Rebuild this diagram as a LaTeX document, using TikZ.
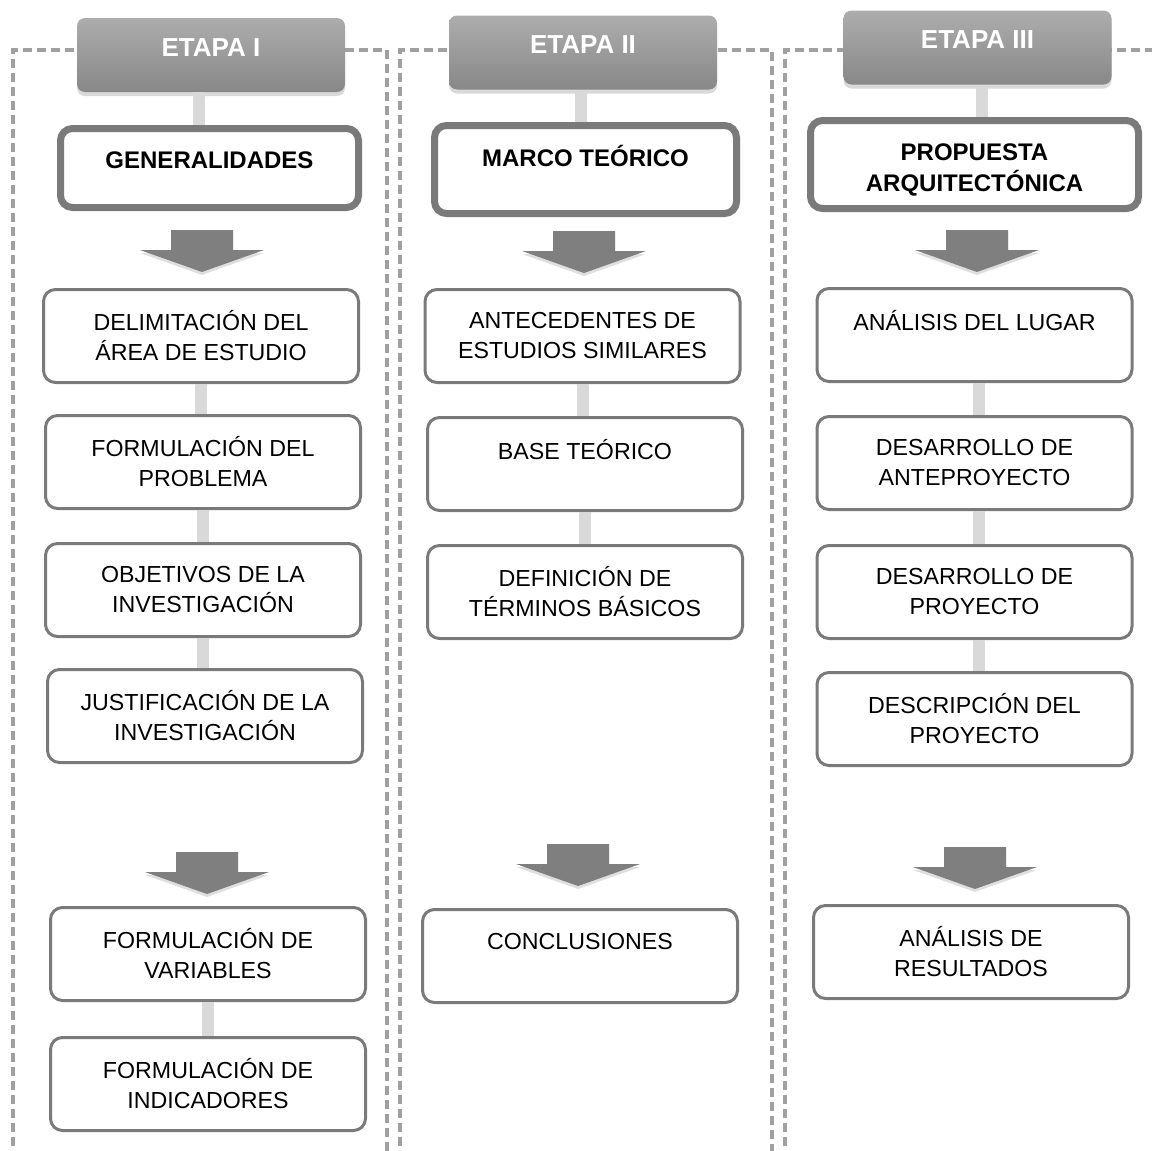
\documentclass[tikz,border=0pt]{standalone}
\usepackage{fontspec}
\setmainfont{Liberation Sans}
\usetikzlibrary{positioning,shadows}

\definecolor{marcogris}{HTML}{A0A0A0}
\definecolor{borde}{HTML}{7A7A7A}
\definecolor{enlacegris}{HTML}{D9D9D9}
\definecolor{flechagris}{HTML}{7F7F7F}
\definecolor{etapaarriba}{HTML}{ADADAD}
\definecolor{etapaabajo}{HTML}{888888}

\begin{document}
\begin{tikzpicture}[x=0.5pt,y=-0.5pt,
  marco/.style={draw=marcogris,line width=1.6pt,dash pattern=on 4.5pt off 2.5pt},
  etapa/.style={rectangle,rounded corners=4pt,top color=etapaarriba,bottom color=etapaabajo,draw=none,
    text=white,font=\bfseries\fontsize{13}{15}\selectfont,minimum width=134pt,minimum height=37pt,
    text height=9.3pt,text depth=8pt,drop shadow={opacity=0.3,shadow xshift=0pt,shadow yshift=-2pt}},
  titulo/.style={rectangle,rounded corners=6pt,draw=borde,line width=3.5pt,fill=white,
    font=\bfseries\fontsize{12}{15.5}\selectfont,align=center},
  paso/.style={rectangle,rounded corners=6pt,draw=borde,line width=1.5pt,fill=white,
    font=\fontsize{11.6}{15}\selectfont,align=center,minimum width=157.5pt,minimum height=46.5pt},
  enlace/.style={draw=enlacegris,line width=6pt},
  flecha/.style={fill=flechagris,draw=none,drop shadow={opacity=0.25,shadow xshift=0pt,shadow yshift=-1.5pt}}
]
\useasboundingbox (0,0) rectangle (1152,1151);
\clip (0,0) rectangle (1152,1151);

\draw[marco] (13,1160) -- (13,50) -- (387,50) -- (387,1160);
\draw[marco] (400,1160) -- (400,50) -- (772,50) -- (772,1160);
\draw[marco] (785,1160) -- (785,50) -- (1160,50);

\node[etapa] (etapaI) at (211,55) {ETAPA I};
\node[etapa] (etapaII) at (583,52.5) {ETAPA II};
\node[etapa] (etapaIII) at (977.5,47.5) {ETAPA III};

\node[titulo,minimum width=149pt,minimum height=39.5pt,text height=8.6pt,text depth=8pt] (gen) at (209.5,168) {GENERALIDADES};
\node[titulo,minimum width=151pt,minimum height=44pt,text height=8.6pt,text depth=12pt] (marcot) at (585.5,169.5) {MARCO TEÓRICO};
\node[titulo,minimum width=164pt,minimum height=44pt,text height=27pt,text depth=0.4pt] (prop) at (974.5,164.5) {PROPUESTA\\ARQUITECTÓNICA};

\node[paso] (delim) at (201,336) {DELIMITACIÓN DEL\\ÁREA DE ESTUDIO};
\node[paso] (formprob) at (203,462) {FORMULACIÓN DEL\\PROBLEMA};
\node[paso] (objet) at (203,590) {OBJETIVOS DE LA\\INVESTIGACIÓN};
\node[paso] (justif) at (205,716) {JUSTIFICACIÓN DE LA\\INVESTIGACIÓN};
\node[paso] (variab) at (208,954) {FORMULACIÓN DE\\VARIABLES};
\node[paso] (indic) at (208,1084) {FORMULACIÓN DE\\INDICADORES};

\node[paso] (antec) at (582.5,336) {ANTECEDENTES DE\\ESTUDIOS SIMILARES};
\node[paso] (base) at (585,464) {BASE TEÓRICO\\~};
\node[paso] (defin) at (585,592) {DEFINICIÓN DE\\TÉRMINOS BÁSICOS};
\node[paso] (concl) at (580,956) {CONCLUSIONES\\~};

\node[paso] (lugar) at (974.5,335) {ANÁLISIS DEL LUGAR\\~};
\node[paso] (antep) at (974.5,463) {DESARROLLO DE\\ANTEPROYECTO};
\node[paso] (proy) at (974.5,592) {DESARROLLO DE\\PROYECTO};
\node[paso] (descr) at (974.5,719) {DESCRIPCIÓN DEL\\PROYECTO};
\node[paso] (result) at (971,952) {ANÁLISIS DE\\RESULTADOS};

\draw[enlace] ([xshift=-6pt]etapaI.south) -- ([xshift=-6pt]etapaI.south |- gen.north);
\draw[enlace] ([xshift=-1pt]etapaII.south) -- ([xshift=-1pt]etapaII.south |- marcot.north);
\draw[enlace] ([xshift=2pt]etapaIII.south) -- ([xshift=2pt]etapaIII.south |- prop.north);

\draw[enlace] (delim.south) -- (delim.south |- formprob.north);
\draw[enlace] (formprob.south) -- (formprob.south |- objet.north);
\draw[enlace] (objet.south) -- (objet.south |- justif.north);
\draw[enlace] (variab.south) -- (variab.south |- indic.north);
\draw[enlace] (antec.south) -- (antec.south |- base.north);
\draw[enlace] (base.south) -- (base.south |- defin.north);
\draw[enlace] ([xshift=2pt]lugar.south) -- ([xshift=2pt]lugar.south |- antep.north);
\draw[enlace] ([xshift=2pt]antep.south) -- ([xshift=2pt]antep.south |- proy.north);
\draw[enlace] ([xshift=2pt]proy.south) -- ([xshift=2pt]proy.south |- descr.north);

\foreach \cx/\ty in {202/230,584/231,977/230,207/852,578/844,975/847}
  \fill[flecha] ({\cx-31},\ty) -- ({\cx+31},\ty) -- ({\cx+31},{\ty+20}) -- ({\cx+62},{\ty+20})
    -- (\cx,{\ty+42}) -- ({\cx-62},{\ty+20}) -- ({\cx-31},{\ty+20}) -- cycle;

\end{tikzpicture}
\end{document}
